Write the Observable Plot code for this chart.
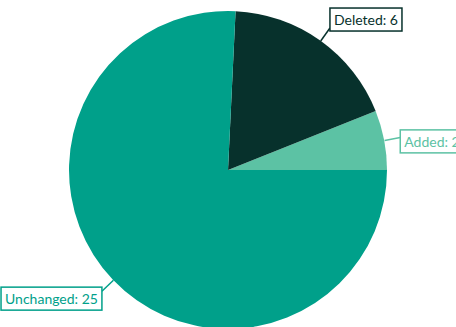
<!DOCTYPE html>
<html>
<head>
<meta charset="utf-8">
<script src="https://cdn.jsdelivr.net/npm/d3@7"></script>
<script src="https://cdn.jsdelivr.net/npm/@observablehq/plot@0.6"></script>
<style>
  html, body { margin: 0; padding: 0; background: #fff; }
  svg { display: block; }
</style>
</head>
<body>
<script>
const categories = ["Added", "Deleted", "Unchanged"];
const counts = [2, 6, 25];
const colors = ["#5cc2a4", "#07312c", "#00a08a"];

const W = 456, H = 327;
const R = 159, CX = 228, CY = 170;

const pie = d3.pie().sort(null)
  .startAngle(Math.PI / 2)
  .endAngle(Math.PI / 2 - 2 * Math.PI)(counts);

const slices = pie.map((a, i) => ({
  category: categories[i],
  value: counts[i],
  color: colors[i],
  startAngle: a.startAngle,
  endAngle: a.endAngle
}));

const LABEL_R = 1.1;
const labels = slices.map(s => {
  const mid = (s.startAngle + s.endAngle) / 2;
  const u = Math.sin(mid), v = Math.cos(mid);
  return {
    ...s,
    text: `${s.category}: ${s.value}`,
    x1: u, y1: v,
    x2: u * LABEL_R, y2: v * LABEL_R,
    side: u >= 0 ? "right" : "left",
    vert: v > 0.5 ? "bottom" : v < -0.5 ? "top" : "middle"
  };
});

function sliceMark(...args) {
  const scales = args.find(a => a && typeof a.x === "function" && typeof a.y === "function");
  const cx = scales.x(0), cy = scales.y(0), r = scales.x(1) - scales.x(0);
  const arc = d3.arc().innerRadius(0).outerRadius(r);
  const g = d3.create("svg:g").attr("transform", `translate(${cx},${cy})`);
  g.selectAll("path").data(slices).join("path")
    .attr("d", d => arc({startAngle: d.startAngle, endAngle: d.endAngle}))
    .attr("fill", d => d.color);
  return g.node();
}

const PX = 4, PY = 3;
const textMarks = [];
for (const side of ["left", "right"]) {
  for (const vert of ["top", "middle", "bottom"]) {
    textMarks.push(Plot.text(labels.filter(d => d.side === side && d.vert === vert), {
      x: "x2", y: "y2", text: "text", fill: "color",
      textAnchor: side === "right" ? "start" : "end",
      lineAnchor: vert,
      dx: side === "right" ? PX : -PX,
      dy: vert === "bottom" ? -PY : vert === "top" ? PY : 5,
      className: "pie-label"
    }));
  }
}

const chart = Plot.plot({
  width: W, height: H, margin: 0,
  style: {fontFamily: "Lato, sans-serif", fontSize: "14px", background: "#fff"},
  x: {domain: [-CX / R, (W - CX) / R], axis: null},
  y: {domain: [-(H - CY) / R, CY / R], axis: null},
  color: {type: "identity"},
  marks: [
    sliceMark,
    Plot.link(labels, {x1: "x1", y1: "y1", x2: "x2", y2: "y2", stroke: "color", strokeWidth: 1.5}),
    ...textMarks
  ]
});

document.body.append(chart);

// frame each label with a box in its slice colour
chart.querySelectorAll(".pie-label text").forEach(t => {
  const b = t.getBBox();
  const rect = document.createElementNS("http://www.w3.org/2000/svg", "rect");
  rect.setAttribute("x", b.x - PX);
  rect.setAttribute("y", b.y - PY);
  rect.setAttribute("width", b.width + 2 * PX);
  rect.setAttribute("height", b.height + 2 * PY);
  rect.setAttribute("fill", "#fff");
  rect.setAttribute("stroke", t.getAttribute("fill") || t.parentNode.getAttribute("fill"));
  rect.setAttribute("stroke-width", 1.5);
  const tr = t.getAttribute("transform");
  if (tr) rect.setAttribute("transform", tr);
  t.parentNode.insertBefore(rect, t);
});
</script>
</body>
</html>
